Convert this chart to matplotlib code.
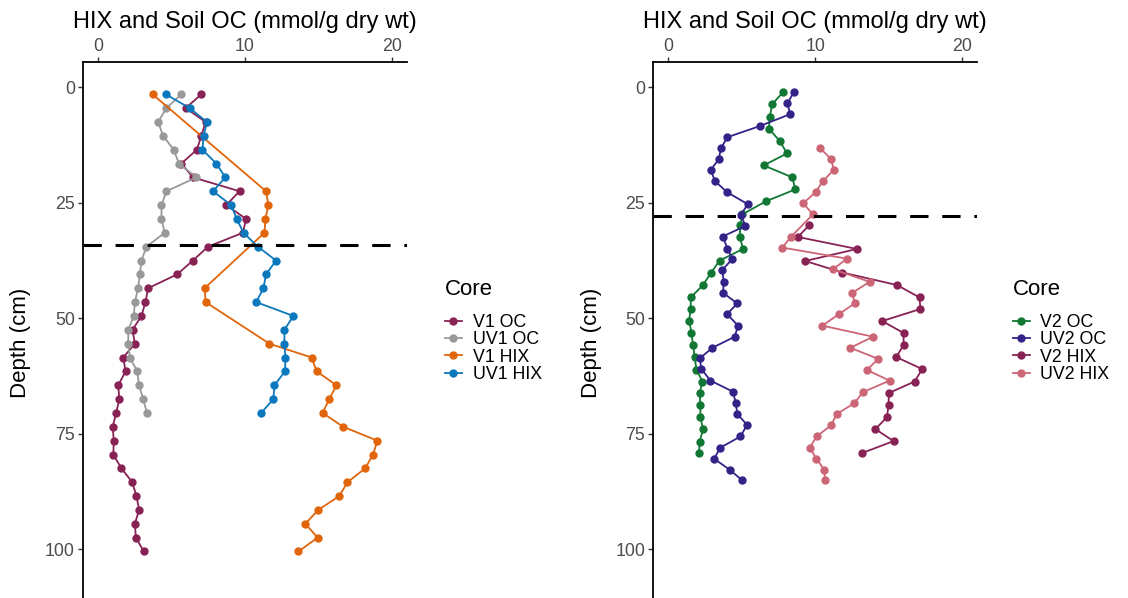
import numpy as np
import matplotlib
matplotlib.use("Agg")
from matplotlib import pyplot as plt

# ---- core V1 / UV1 ----
depth_v1_oc = [1.5, 4.5, 7.5, 10.5, 13.5, 16.5, 19.5, 22.5, 25.5, 28.5, 31.5, 34.5,
               37.5, 40.5, 43.5, 46.5, 49.5, 52.5, 55.5, 58.5, 61.5, 64.5, 67.5,
               70.5, 73.5, 76.5, 79.5, 82.5, 85.5, 88.5, 91.5, 94.5, 97.5, 100.5]
v1_oc = [7.03, 5.97, 7.32, 7.03, 6.73, 5.67, 6.46, 9.63, 8.72, 10.08, 9.85, 7.48,
         6.46, 5.38, 3.41, 3.23, 2.96, 2.35, 2.51, 1.72, 1.88, 1.38, 1.45,
         1.24, 1.00, 1.08, 1.04, 1.60, 2.33, 2.62, 2.80, 2.51, 2.58, 3.12]

depth_uv1 = [1.5, 4.5, 7.5, 10.5, 13.5, 16.5, 19.5, 22.5, 25.5, 28.5, 31.5, 34.5,
             37.5, 40.5, 43.5, 46.5, 49.5, 52.5, 55.5, 58.5, 61.5, 64.5, 67.5, 70.5]
uv1_oc = [5.67, 4.66, 4.09, 4.43, 5.15, 5.51, 6.69, 4.66, 4.32, 4.32, 4.54, 3.30,
          2.96, 2.85, 2.73, 2.51, 2.44, 2.06, 2.06, 2.17, 2.67, 2.80, 3.07, 3.34]
uv1_hix = [4.61, 6.24, 7.41, 7.19, 7.10, 8.05, 8.66, 7.82, 9.06, 9.44, 9.90, 10.87,
           12.11, 11.43, 11.25, 10.76, 13.29, 12.68, 12.68, 12.75, 12.72, 12.00, 11.93, 11.10]

depth_v1_hix = [1.5, 22.5, 25.5, 28.5, 31.5, 43.5, 46.5, 55.5, 58.5, 61.5, 64.5, 67.5,
                70.5, 73.5, 76.5, 79.5, 82.5, 85.5, 88.5, 91.5, 94.5, 97.5, 100.5]
v1_hix = [3.71, 11.43, 11.59, 11.39, 11.32, 7.25, 7.32, 11.66, 14.53, 14.87, 16.22, 15.73,
          15.28, 16.68, 19.00, 18.71, 18.17, 16.97, 16.41, 14.98, 14.10, 14.94, 13.63]

# ---- core V2 / UV2 ----
depth_v2_oc = [1.1, 3.6, 6.4, 9.0, 11.6, 14.3, 16.9, 19.5, 22.1, 24.7, 27.5, 29.8, 32.3,
               35.0, 37.5, 40.1, 42.8, 45.5, 48.0, 50.5, 53.1, 55.8, 58.4, 61.1, 63.7,
               66.2, 68.8, 71.4, 74.0, 76.7, 79.2]
v2_oc = [7.81, 7.09, 6.91, 6.86, 7.59, 8.09, 6.50, 8.45, 8.65, 6.64, 5.05, 4.92, 4.87,
         5.10, 3.51, 2.93, 2.38, 1.54, 1.54, 1.43, 1.59, 1.70, 1.81, 1.93, 2.34,
         2.15, 2.20, 2.20, 2.38, 2.15, 2.11]

depth_uv2_oc = [1.1, 3.5, 5.8, 8.4, 10.8, 13.2, 15.6, 17.9, 20.3, 22.7, 25.3, 27.6,
                30.0, 32.3, 34.9, 37.2, 39.5, 42.1, 44.5, 46.8, 49.1, 51.6, 54.0, 56.4,
                58.7, 61.0, 63.5, 65.9, 68.4, 70.7, 73.1, 75.6, 78.0, 80.4, 82.8, 85.1]
uv2_oc = [8.54, 8.11, 8.31, 6.23, 4.03, 3.60, 3.44, 2.90, 3.19, 4.01, 5.42, 4.95,
          5.26, 3.72, 4.04, 4.37, 3.69, 3.78, 3.74, 4.71, 4.01, 4.76, 4.53, 3.01,
          2.15, 2.27, 2.88, 4.42, 4.60, 4.71, 5.37, 4.92, 3.56, 3.13, 4.19, 5.05]

depth_v2_hix = [29.9, 32.4, 35.0, 37.6, 40.1, 42.8, 45.5, 48.0, 50.6, 53.2,
                55.8, 58.4, 61.0, 63.7, 66.2, 68.8, 71.4, 74.0, 76.6, 79.2]
v2_hix = [9.58, 8.83, 12.84, 9.33, 11.85, 15.56, 17.10, 17.15, 14.56, 16.01,
          16.01, 15.51, 17.28, 16.76, 15.01, 14.99, 14.88, 14.10, 15.33, 13.18]

depth_uv2_hix = [13.2, 15.6, 17.9, 20.3, 22.7, 25.1, 27.5, 32.3, 34.7, 37.1,
                 39.4, 42.1, 44.5, 46.8, 49.1, 51.6, 54.0, 56.4, 58.8, 61.2,
                 63.5, 66.0, 68.4, 70.7, 73.2, 75.6, 78.0, 80.4, 82.8, 85.1]
uv2_hix = [10.35, 11.10, 11.26, 10.53, 10.03, 9.19, 9.85, 8.38, 7.77, 12.16,
           11.21, 13.70, 12.53, 12.68, 11.62, 10.49, 13.93, 12.39, 14.29, 13.52,
           15.06, 13.25, 12.66, 11.48, 11.07, 10.10, 9.63, 10.08, 10.62, 10.67]

# depth of the dashed marker line in each core
cut_v1 = 34.2
cut_v2 = 27.8

plt.rcParams["font.family"] = ["Liberation Sans", "DejaVu Sans"]

TICK_GREY = "#4D4D4D"


def style_axes(ax):
    """Depth profile axes: x on top, depth going down."""
    ax.set_xlim(-1, 21)
    ax.set_ylim(116.2, -5.48)
    ax.xaxis.set_ticks_position("top")
    ax.xaxis.set_label_position("top")
    ax.set_xticks([0, 10, 20])
    ax.set_yticks([0, 25, 50, 75, 100])
    for side in ("right", "bottom"):
        ax.spines[side].set_visible(False)
    for side in ("left", "top"):
        ax.spines[side].set_linewidth(1.3)
    ax.tick_params(direction="out", length=3.5, width=1, color="#333333",
                   labelcolor=TICK_GREY, labelsize=12.8)
    ax.tick_params(axis="x", pad=1.5)
    ax.tick_params(axis="y", pad=2.5)
    ax.set_xlabel("HIX and Soil OC (mmol/g dry wt)", fontsize=17)
    ax.set_ylabel("Depth (cm)", fontsize=16)
    ax.xaxis.set_label_coords(0.5, 1.06)
    ax.yaxis.set_label_coords(-0.16, 0.5)


def plot_core(ax, series, cut, legend_x):
    for depth, values, label, color in series:
        ax.plot(values, depth, "-o", color=color, lw=1.3, ms=5, label=label)
    ax.axhline(cut, color="black", lw=2.2, ls=(0, (6, 4.5)))
    style_axes(ax)
    leg = ax.legend(title="Core", loc="center left",
                    bbox_to_anchor=(legend_x, 0.4465), bbox_transform=ax.figure.transFigure,
                    frameon=False, fontsize=12.8, title_fontsize=16,
                    handlelength=0.95, handletextpad=0.6, labelspacing=0.02,
                    borderpad=0, borderaxespad=0, alignment="left")
    # extra room between the title and the entries
    leg._legend_box.sep = 10
    return leg


fig = plt.figure(figsize=(11.28, 5.98), dpi=100)
ax1 = fig.add_axes([0.0738, -0.0435, 0.2868, 0.9398])
ax2 = fig.add_axes([0.5792, -0.0435, 0.2869, 0.9398])

plot_core(ax1, [
    (depth_v1_oc, v1_oc, "V1 OC", "#882255"),
    (depth_uv1, uv1_oc, "UV1 OC", "#999999"),
    (depth_v1_hix, v1_hix, "V1 HIX", "#E1650A"),
    (depth_uv1, uv1_hix, "UV1 HIX", "#0B78BD"),
], cut_v1, 0.3945)

plot_core(ax2, [
    (depth_v2_oc, v2_oc, "V2 OC", "#117733"),
    (depth_uv2_oc, uv2_oc, "UV2 OC", "#332288"),
    (depth_v2_hix, v2_hix, "V2 HIX", "#882255"),
    (depth_uv2_hix, uv2_hix, "UV2 HIX", "#CC6677"),
], cut_v2, 0.898)

fig.savefig("out.png", dpi=100)
